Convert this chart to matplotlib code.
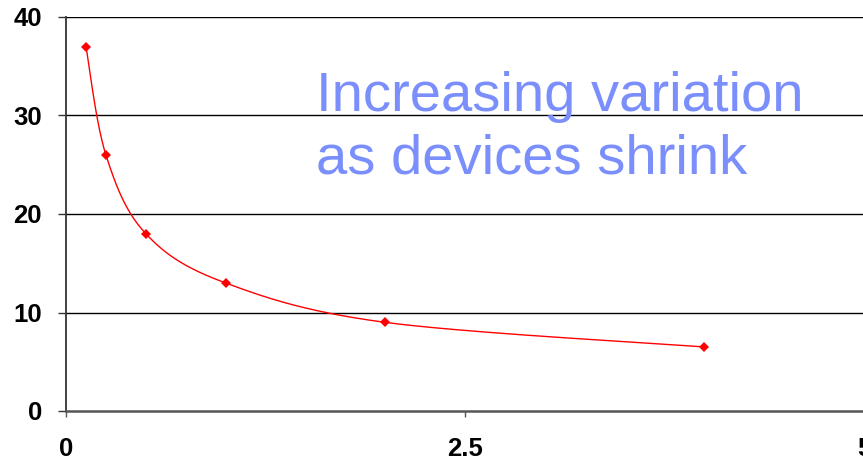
import numpy as np
import matplotlib
matplotlib.use("Agg")
import matplotlib.pyplot as plt

# Measured values
x_vals = [0.125, 0.25, 0.5, 1.0, 2.0, 4.0]
y_vals = [37.0, 26.0, 18.0, 13.0, 9.0, 6.5]
x_ticks = [0, 2.5, 5]
x_tick_labels = ["0", "2.5", "5"]
y_ticks = [0, 10, 20, 30, 40]
annotation_lines = ["Increasing variation", "as devices shrink"]

W, H, DPI = 863, 463, 100
fig = plt.figure(figsize=(W / DPI, H / DPI), dpi=DPI)
ax = fig.add_axes([66 / W, 52 / H, 798 / W, 394 / H])


def smooth_curve(xs, ys, n=60):
    """Catmull-Rom style smoothing through the points (in pixel space)."""
    pts = ax.transData.transform(np.column_stack([xs, ys]))
    ext = np.vstack([pts[0], pts, pts[-1]])
    out = []
    for i in range(1, len(ext) - 2):
        p0, p1, p2, p3 = ext[i - 1], ext[i], ext[i + 1], ext[i + 2]
        c1 = p1 + (p2 - p0) / 6.0
        c2 = p2 - (p3 - p1) / 6.0
        t = np.linspace(0, 1, n)[:, None]
        seg = ((1 - t) ** 3) * p1 + 3 * ((1 - t) ** 2) * t * c1 + 3 * (1 - t) * t ** 2 * c2 + t ** 3 * p2
        out.append(seg if i == 1 else seg[1:])
    out = np.vstack(out)
    data = ax.transData.inverted().transform(out)
    return data[:, 0], data[:, 1]


ax.set_xlim(0, 5)
ax.set_ylim(0, 40)

sx, sy = smooth_curve(x_vals, y_vals)
ax.plot(sx, sy, color="#ff0000", lw=1.0, zorder=3)
ax.plot(x_vals, y_vals, linestyle="none", marker="D", ms=5, color="#ff0000",
        markeredgewidth=0, zorder=4)

# grid lines
for yv in y_ticks[1:]:
    ax.axhline(yv, color="black", lw=1.0, zorder=1)

for side in ("top", "right"):
    ax.spines[side].set_visible(False)
ax.spines["left"].set_color("#333333")
ax.spines["left"].set_linewidth(1.3)
ax.spines["bottom"].set_color("#555555")
ax.spines["bottom"].set_linewidth(1.8)

ax.set_xticks(x_ticks)
ax.set_xticklabels(x_tick_labels)
ax.set_yticks(y_ticks)
ax.tick_params(axis="y", direction="out", length=5.8, width=1.0, color="#333333", pad=11.5)
ax.tick_params(axis="x", direction="out", length=4.5, width=1.0, color="#555555", pad=14)
for lab in ax.get_xticklabels() + ax.get_yticklabels():
    lab.set_fontfamily("Liberation Sans")
    lab.set_fontweight("bold")
    lab.set_fontsize(18.5)

# annotation, one line at a time with measured baselines
for line, base in zip(annotation_lines, [111, 174]):
    ax.text(316 / W, 1 - base / H, line, transform=fig.transFigure,
            fontfamily="Liberation Sans", fontsize=40.5, color="#7b8ffc",
            ha="left", va="baseline")

fig.savefig("out.png", dpi=DPI)
